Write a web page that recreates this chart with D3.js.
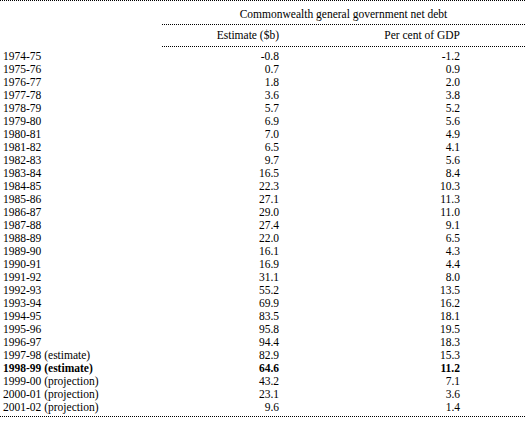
<!DOCTYPE html>
<html>
<head>
<meta charset="utf-8">
<script src="https://cdn.jsdelivr.net/npm/d3@7"></script>
<style>
  body { margin: 0; background: #fff; }
  text { font-family: "Liberation Serif", "Times New Roman", serif; font-size: 11.5px; fill: #000; }
</style>
</head>
<body>
<div id="table"></div>
<script>
// row labels and the two value columns
years = ["1974-75", "1975-76", "1976-77", "1977-78", "1978-79", "1979-80", "1980-81",
  "1981-82", "1982-83", "1983-84", "1984-85", "1985-86", "1986-87", "1987-88",
  "1988-89", "1989-90", "1990-91", "1991-92", "1992-93", "1993-94", "1994-95",
  "1995-96", "1996-97", "1997-98 (estimate)", "1998-99 (estimate)",
  "1999-00 (projection)", "2000-01 (projection)", "2001-02 (projection)"];

estimate = ["-0.8", "0.7", "1.8", "3.6", "5.7", "6.9", "7.0", "6.5", "9.7", "16.5",
  "22.3", "27.1", "29.0", "27.4", "22.0", "16.1", "16.9", "31.1", "55.2", "69.9",
  "83.5", "95.8", "94.4", "82.9", "64.6", "43.2", "23.1", "9.6"];

pctGdp = ["-1.2", "0.9", "2.0", "3.8", "5.2", "5.6", "4.9", "4.1", "5.6", "8.4",
  "10.3", "11.3", "11.0", "9.1", "6.5", "4.3", "4.4", "8.0", "13.5", "16.2",
  "18.1", "19.5", "18.3", "15.3", "11.2", "7.1", "3.6", "1.4"];

groupTitle = "Commonwealth general government net debt";
columns = ["Estimate ($b)", "Per cent of GDP"];
boldRow = "1998-99 (estimate)";

data = years.map((y, i) => ({name: y, values: [estimate[i], pctGdp[i]]}));

var width = 525;
var height = 423;

var svg = d3.select("#table").append("svg")
  .attr("width", width)
  .attr("height", height);

var groupLeft = 162;

// right edges of the two numeric columns
x = d3.scaleOrdinal()
  .domain(columns)
  .range([279, 460]);

y = d3.scaleBand()
  .domain(years)
  .range([50, 50 + 13 * years.length]);

function dotted(x1, x2, yy) {
  svg.append("line")
    .attr("x1", x1).attr("x2", x2)
    .attr("y1", yy).attr("y2", yy)
    .attr("stroke", "#000")
    .attr("stroke-width", 1)
    .attr("stroke-dasharray", "1,1")
    .attr("shape-rendering", "crispEdges");
}

dotted(0, width, 0.5);
dotted(groupLeft, width, 24.5);
dotted(groupLeft, width, 46.5);
dotted(0, width, y.range()[1] + 2.5);

svg.append("text")
  .attr("x", (groupLeft + width) / 2)
  .attr("y", 18)
  .attr("text-anchor", "middle")
  .text(groupTitle);

svg.append("g").selectAll("text")
  .data(columns)
  .enter().append("text")
  .attr("x", d => x(d))
  .attr("y", 38.5)
  .attr("text-anchor", "end")
  .text(d => d);

var rows = svg.append("g").selectAll("g")
  .data(data)
  .enter().append("g")
  .attr("transform", d => `translate(0,${y(d.name) + 10})`)
  .style("font-weight", d => d.name == boldRow ? "bold" : null);

rows.append("text")
  .attr("x", 3)
  .text(d => d.name);

rows.selectAll(".val")
  .data(d => d.values.map((v, j) => ({col: columns[j], v: v})))
  .enter().append("text")
  .attr("class", "val")
  .attr("x", d => x(d.col))
  .attr("text-anchor", "end")
  .text(d => d.v);
</script>
</body>
</html>
